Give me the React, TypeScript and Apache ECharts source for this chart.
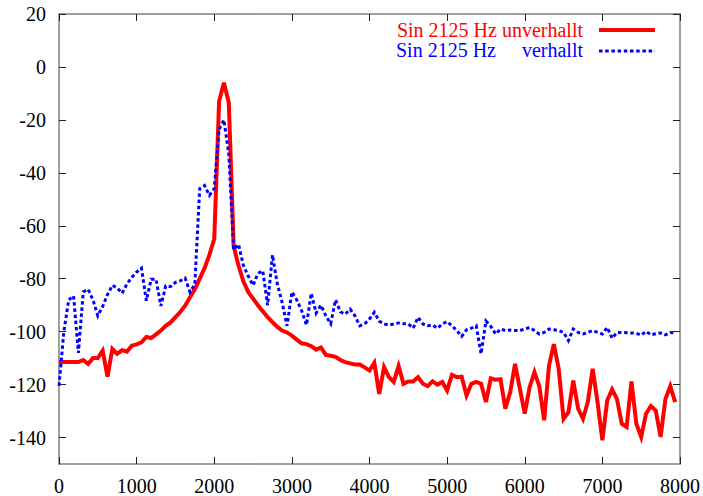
import React, { useEffect, useRef } from 'react';
import * as echarts from 'echarts';

// Frequency bin spacing (Hz) of the spectra
const binStep = 62.5;

// Sin 2125 Hz unverhallt (dB), one value per bin
const redValues = [
  -111.5, -111.5, -111.5, -111.5, -111.5, -110.7, -112.2, -110, -110, -107.2,
  -117, -106.5, -108.4, -107, -107.6, -105.3, -104.8, -104, -102, -102.4,
  -101, -99.6, -97.8, -96.5, -94.5, -92.6, -90.2, -87, -84, -80,
  -76, -71, -65, -13, -6, -13.5, -67.7, -75, -81, -85,
  -87.5, -90, -92.3, -94.5, -96.4, -98.2, -99.6, -100.3, -101.5, -103,
  -104.4, -104.7, -105.5, -106.8, -106, -108.8, -109.1, -109.5, -110.7, -111.5,
  -112, -112.4, -112.4, -113.5, -114.7, -111.8, -123.5, -113.4, -117.2, -119,
  -113, -119.7, -118.8, -118.8, -117.2, -119.7, -120.6, -118.8, -120, -119,
  -122.2, -116.3, -117.2, -117, -124.1, -119.7, -119, -119.7, -126.6, -117.6,
  -118.2, -118, -129.1, -122.9, -112.2, -121.6, -131, -121, -115.3, -120.6,
  -133.5, -112.8, -104.7, -114, -132.9, -130.4, -118.5, -129.1, -132.9, -126.6,
  -114, -126.6, -141, -126, -121.8, -125.4, -134.8, -136, -118.8, -134.8,
  -139.8, -131, -128.1, -129.8, -139.8, -125.4, -120.6, -126.6,
];

// Sin 2125 Hz verhallt (dB), one value per bin
const blueValues = [
  -120.5, -100, -88, -86.5, -108, -85, -84, -88, -94, -90.5,
  -86, -82.5, -83.5, -85.5, -82, -79.5, -77.5, -76, -88.3, -80.2,
  -80.2, -90.3, -82.7, -83, -81.4, -80.8, -79.8, -85, -82, -46,
  -44.8, -48.5, -46, -23.5, -20, -33, -69, -67, -75, -79,
  -82.5, -78, -77, -90, -71, -82, -89, -97.8, -85, -88,
  -92, -97.5, -85.5, -93, -90, -94, -97, -88, -92.5, -93.4,
  -91.5, -94, -97.8, -97.1, -95.2, -92.7, -96, -97.1, -97.5, -97.1,
  -96.7, -97, -97.1, -98.7, -94.6, -97.1, -97.8, -97.5, -98.7, -97.1,
  -96.2, -97.8, -99.6, -101.8, -99.3, -98.7, -97.8, -108.4, -96, -98,
  -100.9, -99, -99.6, -99.4, -99.6, -99.6, -99, -98.4, -99.6, -100.9,
  -100.3, -99, -99.3, -99.6, -100.3, -103.4, -99, -100.3, -100.9, -100.3,
  -99.6, -100.3, -100.9, -98.4, -102.5, -100.3, -100.3, -100.4, -100.5, -100.6,
  -101.3, -99.9, -101.2, -100.8, -100.5, -101.2, -100.3, -100.5,
];

const yTickValues = [20, 0, -20, -40, -60, -80, -100, -120, -140];
const seriesNames = ['Sin 2125 Hz unverhallt', 'Sin 2125 Hz verhallt'];

const FONT = '"Liberation Serif", "Times New Roman", serif';
const FS = 20;

export default function App() {
  const ref = useRef<HTMLDivElement>(null);

  useEffect(() => {
    const chart = echarts.init(ref.current!, null, { renderer: 'svg' });
    const toPairs = (vals: number[]) => vals.map((v, i) => [i * binStep, v]);

    const frameLine = { show: true, onZero: false, lineStyle: { color: '#808080', width: 1.5 } };
    const tick = { show: true, inside: true, length: 7, lineStyle: { color: '#222', width: 1 } };
    const plain = (v: number) => String(v);

    chart.setOption({
      animation: false,
      backgroundColor: '#fff',
      grid: { left: 59, right: 23, top: 14, bottom: 31, containLabel: false },
      xAxis: [
        {
          type: 'value', min: 0, max: 8000, interval: 1000, position: 'bottom',
          axisLine: frameLine, axisTick: tick, splitLine: { show: false },
          axisLabel: { color: '#000', fontFamily: FONT, fontSize: FS, margin: 12, formatter: plain },
        },
        {
          type: 'value', min: 0, max: 8000, interval: 1000, position: 'top',
          axisLine: frameLine, axisTick: tick, splitLine: { show: false },
          axisLabel: { show: false },
        },
      ],
      yAxis: [
        {
          type: 'value', min: -150, max: 20, position: 'left',
          axisLine: frameLine,
          axisTick: { ...tick, customValues: yTickValues },
          splitLine: { show: false },
          axisLabel: { color: '#000', fontFamily: FONT, fontSize: FS, margin: 13, customValues: yTickValues, formatter: plain },
        },
        {
          type: 'value', min: -150, max: 20, position: 'right',
          axisLine: frameLine,
          axisTick: { ...tick, customValues: yTickValues },
          splitLine: { show: false },
          axisLabel: { show: false, customValues: yTickValues },
        },
      ],
      series: [
        {
          name: seriesNames[0], type: 'line', data: toPairs(redValues),
          showSymbol: false, symbol: 'none',
          lineStyle: { color: '#ff0000', width: 4, join: 'miter' },
          z: 2,
        },
        {
          name: seriesNames[1], type: 'line', data: toPairs(blueValues),
          showSymbol: false, symbol: 'none',
          lineStyle: { color: '#0000ff', width: 3, type: [3.5, 2.7], join: 'miter' },
          z: 3,
        },
      ],
      graphic: [
        {
          type: 'text', x: 583, y: 30,
          style: { text: seriesNames[0], fill: '#ff0000', font: `${FS}px ${FONT}`, align: 'right', verticalAlign: 'middle' },
        },
        {
          type: 'line', shape: { x1: 599, y1: 30, x2: 655, y2: 30 },
          style: { stroke: '#ff0000', lineWidth: 4 },
        },
        {
          type: 'text', x: 396, y: 50,
          style: { text: 'Sin 2125 Hz', fill: '#0000ff', font: `${FS}px ${FONT}`, align: 'left', verticalAlign: 'middle' },
        },
        {
          type: 'text', x: 583, y: 50,
          style: { text: 'verhallt', fill: '#0000ff', font: `${FS}px ${FONT}`, align: 'right', verticalAlign: 'middle' },
        },
        {
          type: 'line', shape: { x1: 599, y1: 51, x2: 655, y2: 51 },
          style: { stroke: '#0000ff', lineWidth: 3, lineDash: [3.5, 2.7] },
        },
      ],
    });
    return () => chart.dispose();
  }, []);

  return (
    <div
      ref={ref}
      style={{ position: 'fixed', left: 0, top: 0, width: 703, height: 496, background: '#fff' }}
    />
  );
}
